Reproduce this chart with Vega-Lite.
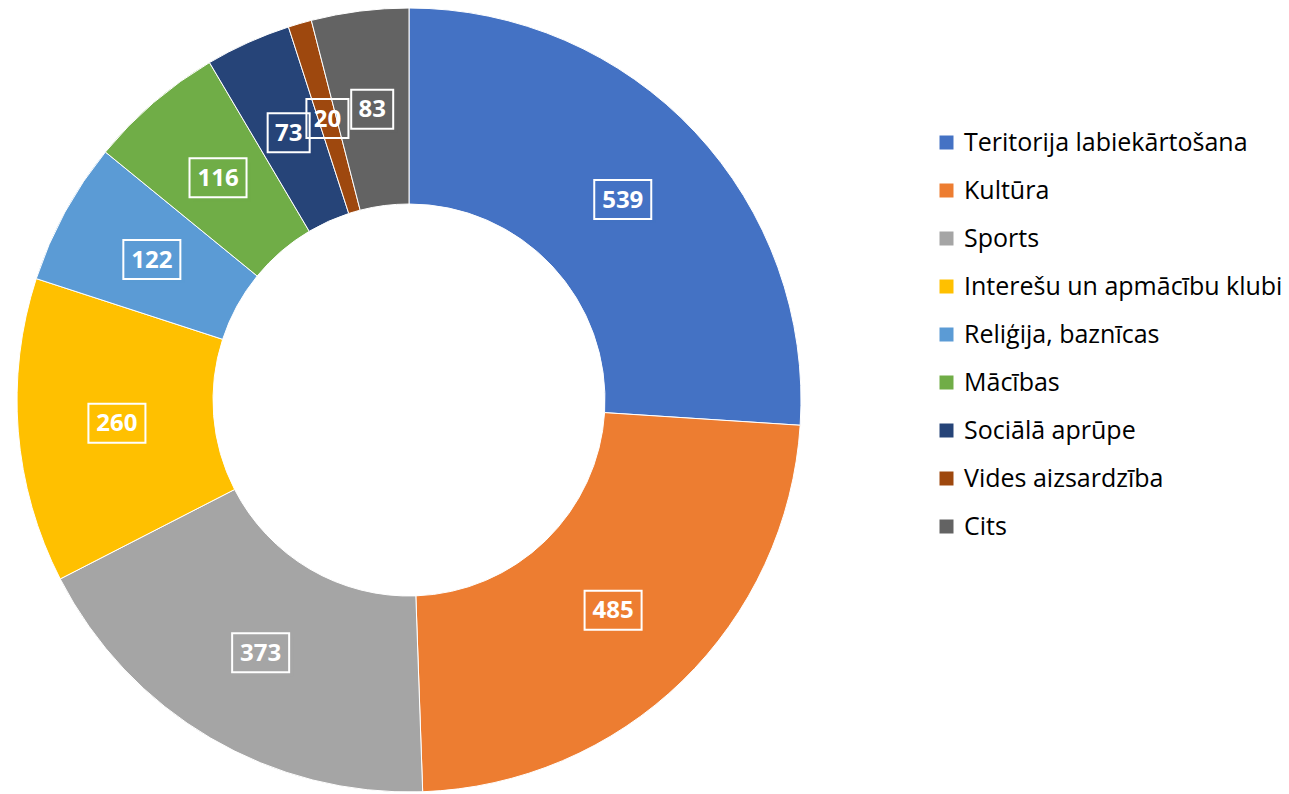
{
  "$schema": "https://vega.github.io/schema/vega-lite/v6.json",
  "width": 818,
  "height": 788,
  "padding": {"top": 6, "left": 0, "right": 471, "bottom": 0},
  "autosize": {"type": "none"},
  "background": "white",
  "view": {"stroke": null},
  "data": {
    "values": [
      {"category": "Teritorija labiekārtošana", "value": 539, "order": 1},
      {"category": "Kultūra", "value": 485, "order": 2},
      {"category": "Sports", "value": 373, "order": 3},
      {"category": "Interešu un apmācību klubi", "value": 260, "order": 4},
      {"category": "Reliģija, baznīcas", "value": 122, "order": 5},
      {"category": "Mācības", "value": 116, "order": 6},
      {"category": "Sociālā aprūpe", "value": 73, "order": 7},
      {"category": "Vides aizsardzība", "value": 20, "order": 8},
      {"category": "Cits", "value": 83, "order": 9}
    ]
  },
  "encoding": {
    "color": {
      "field": "category",
      "type": "nominal",
      "scale": {
        "domain": ["Teritorija labiekārtošana", "Kultūra", "Sports", "Interešu un apmācību klubi", "Reliģija, baznīcas", "Mācības", "Sociālā aprūpe", "Vides aizsardzība", "Cits"],
        "range": ["#4472C4", "#ED7D31", "#A5A5A5", "#FFC000", "#5B9BD5", "#70AD47", "#264478", "#9E480E", "#636363"]
      },
      "legend": {
        "title": null,
        "orient": "none",
        "legendX": 934,
        "legendY": 124,
        "symbolType": "square",
        "symbolSize": 196,
        "symbolStrokeWidth": 0,
        "labelFont": "Open Sans",
        "labelFontSize": 25,
        "labelColor": "#000000",
        "labelOffset": 5,
        "rowPadding": 22,
        "padding": 0,
        "labelLimit": 400
      }
    }
  },
  "layer": [
    {
      "mark": {"type": "arc", "outerRadius": 392, "innerRadius": 196, "stroke": "white", "strokeWidth": 1},
      "encoding": {
        "theta": {"field": "value", "type": "quantitative", "stack": true},
        "order": {"field": "order", "type": "quantitative"}
      }
    },
    {
      "transform": [
        {"joinaggregate": [{"op": "sum", "field": "value", "as": "total"}]},
        {"window": [{"op": "sum", "field": "value", "as": "cum"}], "sort": [{"field": "order", "order": "ascending"}], "frame": [null, 0]},
        {"calculate": "2 * PI * (datum.cum - datum.value / 2) / datum.total", "as": "ang"},
        {"calculate": "sin(datum.ang)", "as": "px"},
        {"calculate": "cos(datum.ang)", "as": "py"}
      ],
      "encoding": {
        "x": {"field": "px", "type": "quantitative", "axis": null, "scale": {"domain": [-1.39590, 1.39590], "zero": false, "nice": false}},
        "y": {"field": "py", "type": "quantitative", "axis": null, "scale": {"domain": [-1.34471, 1.34471], "zero": false, "nice": false}},
        "shape": {
          "condition": {"test": "datum.value < 100", "value": "M-1.077,-1H1.077V1H-1.077Z"},
          "value": "M-1.462,-1H1.462V1H-1.462Z"
        }
      },
      "layer": [
        {
          "mark": {"type": "point", "filled": true, "opacity": 0.18, "color": "black", "strokeWidth": 0, "size": 1521, "xOffset": 4, "yOffset": 4},
          "encoding": {
            "opacity": {"condition": {"test": "datum.value == 20", "value": 0}, "value": 0.18}
          }
        },
        {
          "mark": {"type": "point", "filled": true, "opacity": 1, "stroke": "white", "strokeWidth": 2, "strokeOpacity": 1, "size": 1521},
          "encoding": {
            "fillOpacity": {"condition": {"test": "datum.value == 20", "value": 0}, "value": 1}
          }
        }
      ]
    },
    {
      "mark": {"type": "text", "radius": 293, "font": "Open Sans", "fontWeight": "bold", "fontSize": 24, "baseline": "middle", "align": "center", "dy": 1},
      "encoding": {
        "theta": {"field": "value", "type": "quantitative", "stack": true},
        "order": {"field": "order", "type": "quantitative"},
        "text": {"field": "value", "type": "quantitative"},
        "color": {"value": "white"}
      }
    }
  ]
}
